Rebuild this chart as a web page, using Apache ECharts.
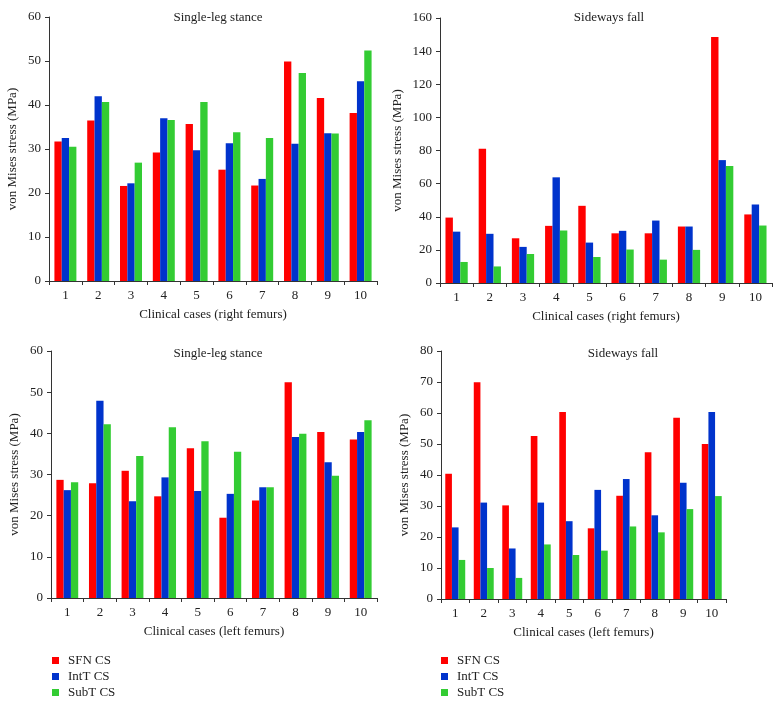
<!DOCTYPE html>
<html>
<head>
<meta charset="utf-8">
<script src="https://cdn.jsdelivr.net/npm/echarts@6/dist/echarts.min.js"></script>
<style>
html,body{margin:0;padding:0;background:#fff;}
#chart{width:780px;height:706px;}
</style>
</head>
<body>
<div id="chart"></div>
<script>
var cases = ['1','2','3','4','5','6','7','8','9','10'];
var seriesNames = ['SFN CS', 'IntT CS', 'SubT CS'];
var colors = ['#ff0000', '#0033cc', '#33cc33'];

// Right femurs, single-leg stance
var rightStanceSFN  = [31.7, 36.5, 21.6, 29.2, 35.7, 25.3, 21.7, 49.9, 41.6, 38.2];
var rightStanceIntT = [32.5, 42.0, 22.2, 37.0, 29.7, 31.3, 23.2, 31.2, 33.6, 45.4];
var rightStanceSubT = [30.5, 40.7, 26.9, 36.6, 40.7, 33.8, 32.5, 47.3, 33.5, 52.4];

// Right femurs, sideways fall
var rightFallSFN  = [39.5, 81.0, 27.0, 34.5, 46.6, 30.0, 30.0, 34.1, 148.5, 41.4];
var rightFallIntT = [31.0, 29.7, 21.8, 63.8, 24.4, 31.5, 37.7, 34.1, 74.2, 47.4];
var rightFallSubT = [12.7, 10.0, 17.5, 31.7, 15.7, 20.2, 14.1, 20.0, 70.7, 34.7];

// Left femurs, single-leg stance
var leftStanceSFN  = [28.7, 27.9, 30.9, 24.7, 36.4, 19.5, 23.7, 52.4, 40.3, 38.5];
var leftStanceIntT = [26.2, 47.9, 23.5, 29.3, 26.0, 25.3, 26.9, 39.1, 33.0, 40.3];
var leftStanceSubT = [28.1, 42.2, 34.5, 41.5, 38.1, 35.5, 26.9, 39.9, 29.7, 43.2];

// Left femurs, sideways fall
var leftFallSFN  = [40.4, 69.9, 30.2, 52.6, 60.3, 22.8, 33.3, 47.3, 58.5, 50.0];
var leftFallIntT = [23.1, 31.1, 16.3, 31.1, 25.1, 35.2, 38.7, 27.0, 37.5, 60.3];
var leftFallSubT = [12.6, 10.0, 6.8, 17.6, 14.2, 15.6, 23.4, 21.5, 29.0, 33.2];

var titles = ['Single-leg stance', 'Sideways fall', 'Single-leg stance', 'Sideways fall'];
var xNames = ['Clinical cases (right femurs)', 'Clinical cases (right femurs)', 'Clinical cases (left femurs)', 'Clinical cases (left femurs)'];
var yName = 'von Mises stress (MPa)';
var yMax = [60, 160, 60, 80];
var yInterval = [10, 20, 10, 10];

var panelData = [
  [rightStanceSFN, rightStanceIntT, rightStanceSubT],
  [rightFallSFN, rightFallIntT, rightFallSubT],
  [leftStanceSFN, leftStanceIntT, leftStanceSubT],
  [leftFallSFN, leftFallIntT, leftFallSubT]
];

var FONT = '"Liberation Serif", "DejaVu Serif", serif';
var TXT = '#222';

var grids = [
  {left: 49, top: 17, width: 328, height: 264},
  {left: 440, top: 18, width: 332, height: 265},
  {left: 51, top: 351, width: 326, height: 247},
  {left: 441, top: 351, width: 285, height: 248}
];
var titlePos = [
  {cx: 213, top: 6},
  {cx: 604, top: 6},
  {cx: 213, top: 342},
  {cx: 618, top: 342}
];
var catGaps = ['33%', '33%', '33%', '30%'];

var option = {
  animation: false,
  backgroundColor: '#ffffff',
  textStyle: {fontFamily: FONT},
  title: titles.map(function (t, i) {
    return {
      text: t,
      left: titlePos[i].cx,
      top: titlePos[i].top,
      textAlign: 'center',
      textStyle: {fontFamily: FONT, fontSize: 13, fontWeight: 'normal', color: TXT}
    };
  }),
  legend: [
    {left: 52, top: 654},
    {left: 441, top: 654}
  ].map(function (p) {
    return {
      data: seriesNames,
      left: p.left,
      top: p.top,
      width: 120,
      height: 80,
      padding: 0,
      orient: 'vertical',
      icon: 'rect',
      itemWidth: 7,
      itemHeight: 7,
      itemGap: 3,
      selectedMode: false,
      textStyle: {fontFamily: FONT, fontSize: 13, color: TXT, lineHeight: 13, padding: [0, 0, 0, 4]}
    };
  }),
  grid: grids.map(function (g) {
    return {left: g.left, top: g.top, width: g.width, height: g.height, containLabel: false};
  }),
  xAxis: grids.map(function (g, i) {
    return {
      type: 'category',
      gridIndex: i,
      data: cases,
      name: xNames[i],
      nameLocation: 'middle',
      nameGap: 27,
      nameTextStyle: {fontFamily: FONT, fontSize: 13, color: TXT},
      axisLine: {lineStyle: {color: '#333', width: 1}},
      axisTick: {show: true, length: 4, lineStyle: {color: '#333'}},
      axisLabel: {fontFamily: FONT, fontSize: 13, color: TXT, margin: 8},
      splitLine: {show: false}
    };
  }),
  yAxis: grids.map(function (g, i) {
    return {
      type: 'value',
      gridIndex: i,
      min: 0,
      max: yMax[i],
      interval: yInterval[i],
      name: yName,
      nameLocation: 'middle',
      nameGap: i === 1 ? 36 : 30,
      nameRotate: 90,
      nameTextStyle: {fontFamily: FONT, fontSize: 13, color: TXT},
      axisLine: {show: true, lineStyle: {color: '#333', width: 1}},
      axisTick: {show: true, length: 4, lineStyle: {color: '#333'}},
      axisLabel: {fontFamily: FONT, fontSize: 13, color: TXT, margin: 8},
      splitLine: {show: false}
    };
  }),
  series: []
};

panelData.forEach(function (arrs, gi) {
  arrs.forEach(function (vals, si) {
    option.series.push({
      type: 'bar',
      name: seriesNames[si],
      xAxisIndex: gi,
      yAxisIndex: gi,
      data: vals,
      barGap: 0,
      barCategoryGap: catGaps[gi],
      itemStyle: {color: colors[si]},
      emphasis: {disabled: true}
    });
  });
});

var chart = echarts.init(document.getElementById('chart'), null, {renderer: 'canvas'});
chart.setOption(option);
</script>
</body>
</html>
